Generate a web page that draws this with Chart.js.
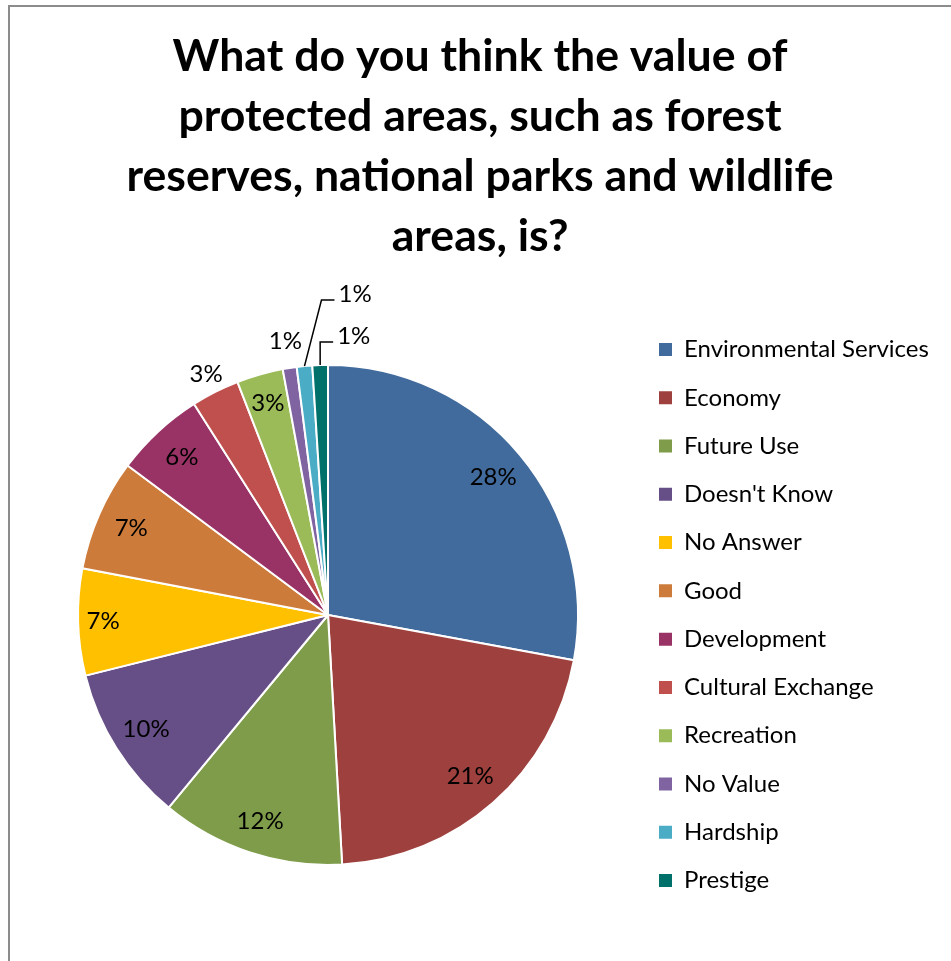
<!DOCTYPE html>
<html>
<head>
<meta charset="utf-8">
<script src="https://cdn.jsdelivr.net/npm/chart.js@4.4.1/dist/chart.umd.min.js"></script>
<style>
  html, body { margin: 0; padding: 0; background: #ffffff; }
  #wrap { position: relative; width: 951px; height: 961px; }
</style>
</head>
<body>
<div id="wrap"><canvas id="c" width="951" height="961"></canvas></div>
<script>
// ---- data ----
const titleLines = [
  'What do you think the value of',
  'protected areas, such as forest',
  'reserves, national parks and wildlife',
  'areas, is?'
];
const categories = [
  'Environmental Services', 'Economy', 'Future Use', "Doesn't Know", 'No Answer',
  'Good', 'Development', 'Cultural Exchange', 'Recreation', 'No Value', 'Hardship', 'Prestige'
];
const values = [27.9, 21.2, 11.9, 10.1, 6.9, 7.2, 5.8, 3.1, 3.0, 0.9, 1.0, 1.0];
const colors = [
  '#416B9C', '#9E413E', '#7E9C4A', '#664F87', '#FFC000',
  '#CD7B3A', '#993366', '#C0504D', '#9BBB59', '#8064A2', '#4BACC6', '#00706B'
];

// ---- label placement (style only) ----
const labelPlacement = [
  {type: 'radial', r: 0.86}, {type: 'radial', r: 0.86}, {type: 'radial', r: 0.87},
  {type: 'radial', r: 0.86}, {type: 'radial', r: 0.9}, {type: 'radial', r: 0.86},
  {type: 'radial', r: 0.86}, {type: 'radial', r: 1.08}, {type: 'radial', r: 0.88},
  {type: 'radial', r: 1.11},
  {type: 'leader', dx: 17, dy: -66},
  {type: 'leader', dx: 0, dy: -23}
];

const FONT = 'Lato';
const LEGEND_SIZE = 24;
const LEGEND_PAD = 24.27;
const BOX = 13;
const BOX_LEFT = 659;

// measure
const mctx = document.createElement('canvas').getContext('2d');
mctx.font = `bold 40px ${FONT}`;
const titleSize = 40 * 615 / mctx.measureText(titleLines[0]).width;
mctx.font = `${LEGEND_SIZE}px ${FONT}`;
let maxW = 0;
categories.forEach(c => { maxW = Math.max(maxW, mctx.measureText(c).width); });
const legendWidth = LEGEND_PAD + BOX + LEGEND_SIZE / 2 + maxW + 10;
const legendLeft = BOX_LEFT - LEGEND_PAD;
const padLeft = 2 * 328 - legendLeft;
const padRight = 951 - legendLeft - legendWidth;

const borderPlugin = {
  id: 'frame',
  beforeDraw(chart) {
    const ctx = chart.ctx;
    ctx.save();
    ctx.strokeStyle = '#8c8c8c';
    ctx.lineWidth = 2;
    ctx.beginPath();
    ctx.moveTo(9, 961);
    ctx.lineTo(9, 6);
    ctx.lineTo(951, 6);
    ctx.stroke();
    ctx.restore();
  }
};

const labelPlugin = {
  id: 'sliceLabels',
  afterDatasetsDraw(chart) {
    const ctx = chart.ctx;
    const meta = chart.getDatasetMeta(0);
    ctx.save();
    ctx.font = `${LEGEND_SIZE}px ${FONT}`;
    ctx.fillStyle = '#000';
    ctx.strokeStyle = '#000';
    ctx.lineWidth = 1.5;
    ctx.textBaseline = 'middle';
    meta.data.forEach((arc, i) => {
      const p = arc.getProps(['x', 'y', 'startAngle', 'endAngle', 'outerRadius'], true);
      const mid = (p.startAngle + p.endAngle) / 2;
      const text = Math.round(values[i]) + '%';
      const pl = labelPlacement[i];
      if (pl.type === 'radial') {
        const r = p.outerRadius * pl.r;
        ctx.textAlign = 'center';
        ctx.fillText(text, p.x + Math.cos(mid) * r, p.y + Math.sin(mid) * r);
      } else {
        const ax = p.x + Math.cos(mid) * p.outerRadius;
        const ay = p.y + Math.sin(mid) * p.outerRadius;
        const ex = ax + pl.dx, ey = ay + pl.dy;
        ctx.beginPath();
        ctx.moveTo(ax, ay);
        ctx.lineTo(ex, ey);
        ctx.lineTo(ex + 13, ey);
        ctx.stroke();
        ctx.textAlign = 'left';
        ctx.fillText(text, ex + 17, ey - 6);
      }
    });
    ctx.restore();
  }
};

new Chart(document.getElementById('c'), {
  type: 'pie',
  data: {
    labels: categories,
    datasets: [{
      data: values,
      backgroundColor: colors,
      borderColor: '#ffffff',
      borderWidth: 2
    }]
  },
  options: {
    responsive: false,
    animation: false,
    radius: 250,
    layout: { padding: { left: padLeft, right: padRight, top: 0, bottom: 0 } },
    plugins: {
      tooltip: { enabled: false },
      title: {
        display: true,
        text: titleLines,
        color: '#000',
        font: { family: FONT, weight: 'bold', size: titleSize, lineHeight: '60px' },
        padding: { top: 27, bottom: 2 }
      },
      legend: {
        position: 'right',
        fullSize: false,
        labels: {
          color: '#000',
          font: { family: FONT, size: LEGEND_SIZE },
          boxWidth: BOX,
          boxHeight: BOX,
          padding: LEGEND_PAD,
          generateLabels(chart) {
            const items = Chart.overrides.pie.plugins.legend.labels.generateLabels(chart);
            items.forEach(it => { it.lineWidth = 0; });
            return items;
          }
        }
      }
    }
  },
  plugins: [borderPlugin, labelPlugin]
});
</script>
</body>
</html>
